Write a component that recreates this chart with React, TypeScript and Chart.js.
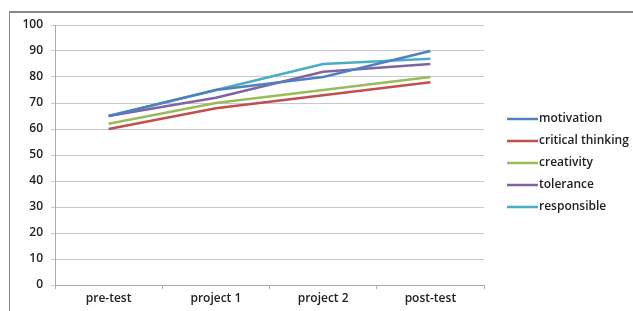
import React, { useEffect, useRef } from "react";
import { Chart, registerables } from "chart.js";

Chart.register(...registerables);

const categories = ["pre-test", "project 1", "project 2", "post-test"];
const seriesNames = ["motivation", "critical thinking", "creativity", "tolerance", "responsible"];
const motivation = [65, 75, 80, 90];
const criticalThinking = [60, 68, 73, 78];
const creativity = [62, 70, 75, 80];
const tolerance = [65, 72, 82, 85];
const responsible = [65, 75, 85, 87];
const seriesColors = ["#4F81BD", "#C0504D", "#9BBB59", "#8064A2", "#4BACC6"];
const yTicks = [0, 10, 20, 30, 40, 50, 60, 70, 80, 90, 100];

const FONT = "'Open Sans', sans-serif";

const legendPlugin = {
  id: "sideLegend",
  afterDraw(chart: any) {
    const ctx = chart.ctx;
    ctx.save();
    ctx.font = `600 12px ${FONT}`;
    ctx.textBaseline = "middle";
    ctx.textAlign = "left";
    chart.data.datasets.forEach((ds: any, i: number) => {
      const y = 119 + 22 * i;
      ctx.strokeStyle = ds.borderColor;
      ctx.lineWidth = 2.5;
      ctx.beginPath();
      ctx.moveTo(507, y);
      ctx.lineTo(538, y);
      ctx.stroke();
      ctx.fillStyle = "#222";
      ctx.fillText(ds.label, 539, y);
    });
    ctx.restore();
  },
};

export default function App() {
  const ref = useRef<HTMLCanvasElement>(null);
  useEffect(() => {
    document.body.style.margin = "0";
    const values = [motivation, criticalThinking, creativity, tolerance, responsible];
    const chart = new Chart(ref.current!, {
      type: "line",
      data: {
        labels: categories,
        datasets: values.map((v, i) => ({
          label: seriesNames[i],
          data: v,
          borderColor: seriesColors[i],
          backgroundColor: seriesColors[i],
          borderWidth: 2.5,
          pointRadius: 0,
          tension: 0,
        })),
      },
      options: {
        animation: false,
        responsive: false,
        layout: { padding: { left: 0, right: 149, top: 25, bottom: 0 } },
        plugins: { legend: { display: false }, tooltip: { enabled: false } },
        scales: {
          x: {
            offset: true,
            grid: { drawOnChartArea: false, drawTicks: true, tickLength: 4, color: "#aaa", offset: true },
            border: { display: true, color: "#aaa" },
            ticks: { color: "#222", font: { family: FONT, size: 12, weight: "600" }, padding: 2 },
            afterFit: (s: any) => { s.height = 26; },
          },
          y: {
            min: 0,
            max: 100,
            afterBuildTicks: (s: any) => { s.ticks = yTicks.map((v) => ({ value: v })); },
            grid: { color: "#c8c8c8", tickLength: 4, drawTicks: true },
            border: { display: true, color: "#aaa" },
            ticks: { color: "#222", font: { family: FONT, size: 12, weight: "600" }, padding: 8 },
            afterFit: (s: any) => { s.width = 55; },
          },
        },
      },
      plugins: [legendPlugin],
    });
    return () => chart.destroy();
  }, []);
  return (
    <div style={{ position: "relative", width: 633, height: 311 }}>
      <canvas ref={ref} width={633} height={311} style={{ position: "absolute", left: 0, top: 0 }} />
      <div style={{ position: "absolute", left: 9, top: 11, width: 624, height: 300, borderLeft: "1px solid #888", borderTop: "2px solid #888", boxSizing: "border-box", pointerEvents: "none" }} />
    </div>
  );
}
